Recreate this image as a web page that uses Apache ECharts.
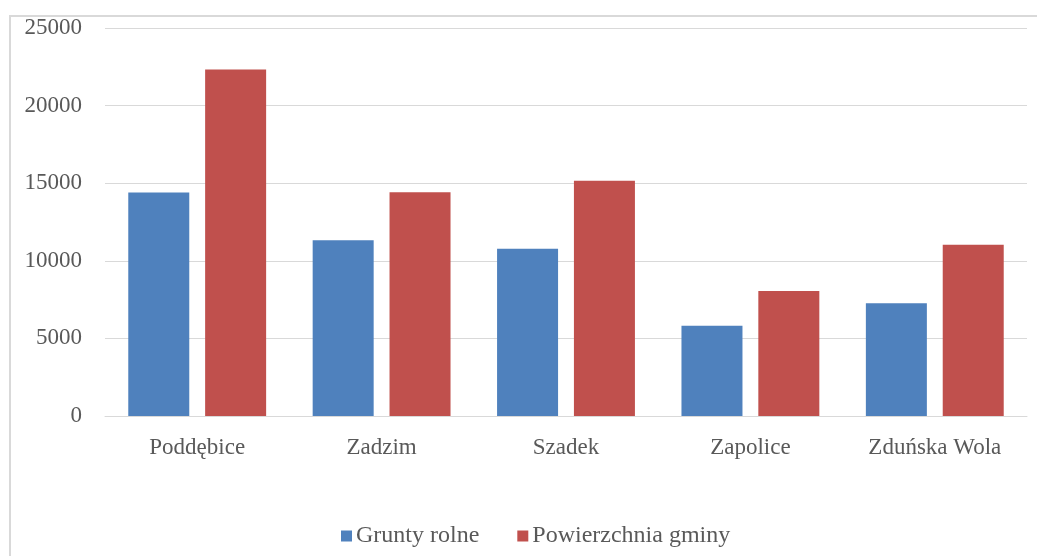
<!DOCTYPE html>
<html>
<head>
<meta charset="utf-8">
<script src="https://cdn.jsdelivr.net/npm/echarts@6/dist/echarts.min.js"></script>
<style>html,body{margin:0;padding:0;background:#fff;}#c{width:1037px;height:556px;}</style>
</head>
<body>
<div id="c"></div>
<script>
var categories = ['Poddębice', 'Zadzim', 'Szadek', 'Zapolice', 'Zduńska Wola'];
var gruntyRolne = [14400, 11330, 10770, 5810, 7260];
var powierzchniaGminy = [22320, 14420, 15150, 8060, 11030];
var yTicks = [0, 5000, 10000, 15000, 20000, 25000];

var chart = echarts.init(document.getElementById('c'), null, {renderer: 'canvas'});
var font = '"Liberation Serif", "Times New Roman", serif';
var txt = '#595959';
chart.setOption({
  animation: false,
  backgroundColor: '#ffffff',
  graphic: [{
    type: 'rect', silent: true, z: -10,
    shape: {x: 10, y: 16, width: 1100, height: 600},
    style: {fill: 'none', stroke: '#d9d9d9', lineWidth: 2}
  }],
  grid: {left: 105, right: 10, top: 28, bottom: 140, containLabel: false},
  legend: {
    data: ['Grunty rolne', 'Powierzchnia gminy'],
    top: 519, left: 336,
    icon: 'rect', itemWidth: 11, itemHeight: 11, itemGap: 38,
    textStyle: {fontFamily: font, fontSize: 24, color: txt, padding: [0, 0, 0, -1]}
  },
  xAxis: {
    type: 'category', data: categories,
    axisLine: {show: true, lineStyle: {color: '#d9d9d9', width: 1}},
    axisTick: {show: false},
    axisLabel: {fontFamily: font, fontSize: 23, color: txt, margin: 20}
  },
  yAxis: {
    type: 'value', min: yTicks[0], max: yTicks[yTicks.length - 1], interval: 5000,
    axisLine: {show: false}, axisTick: {show: false},
    splitLine: {lineStyle: {color: '#d9d9d9', width: 1}},
    axisLabel: {fontFamily: font, fontSize: 23, color: txt, margin: 23,
      formatter: function (v) { return String(v); }}
  },
  series: [
    {name: 'Grunty rolne', type: 'bar', data: gruntyRolne, barWidth: 61, barGap: '26%',
     itemStyle: {color: '#4F81BD'}},
    {name: 'Powierzchnia gminy', type: 'bar', data: powierzchniaGminy, barWidth: 61,
     itemStyle: {color: '#C0504D'}}
  ]
});
</script>
</body>
</html>
